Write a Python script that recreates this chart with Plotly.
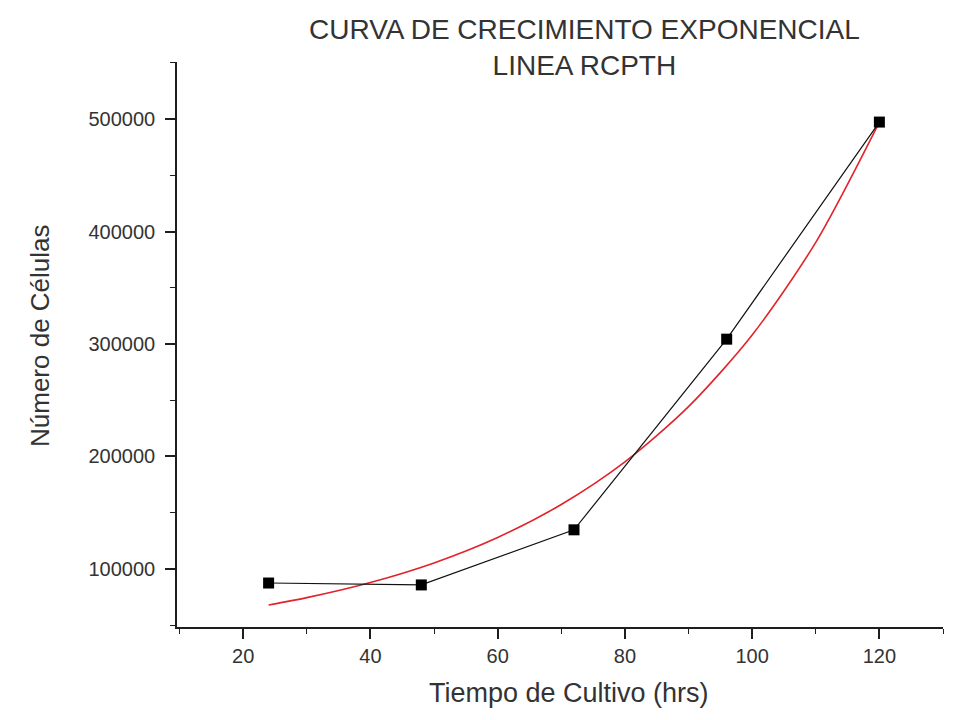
import plotly.graph_objects as go

# Measured cell counts over culture time
tiempo_hrs = [24, 48, 72, 96, 120]
num_celulas = [87500, 85800, 134800, 304300, 497300]

# Exponential growth fit, sampled along its length
ajuste_x = [24, 30, 40, 50, 60, 70, 80, 90, 100, 110, 120]
ajuste_y = [68000, 74500, 88000, 105400, 128000, 157300, 195200, 244300, 308000, 390400, 497300]

x_ticks = [20, 40, 60, 80, 100, 120]
y_ticks = [100000, 200000, 300000, 400000, 500000]

FONT = "Liberation Sans, Arial, sans-serif"
TEXT = "#333333"
AXIS = "#1e1e1e"
W, H = 979, 720

fig = go.Figure()

fig.add_trace(go.Scatter(
    x=ajuste_x, y=ajuste_y, mode="lines",
    line=dict(color="#e3232b", width=1.6, shape="spline", smoothing=0.8),
    showlegend=False, hoverinfo="skip",
))

fig.add_trace(go.Scatter(
    x=tiempo_hrs, y=num_celulas, mode="lines+markers",
    line=dict(color="#111111", width=1.2),
    marker=dict(symbol="square", size=11, color="#000000"),
    showlegend=False,
))

axis_common = dict(
    showgrid=False, zeroline=False, showline=True, linecolor=AXIS, linewidth=1.6,
    ticks="outside", ticklen=10, tickwidth=1.6, tickcolor=AXIS,
    tickfont=dict(family=FONT, size=20, color=TEXT),
)

fig.update_layout(
    width=W, height=H,
    margin=dict(l=177, r=36, t=62, b=93),
    paper_bgcolor="white", plot_bgcolor="white",
    xaxis=dict(
        **axis_common,
        range=[9.6, 130],
        tickmode="array", tickvals=x_ticks, ticktext=[str(v) for v in x_ticks],
        minor=dict(dtick=10, tick0=0, ticks="outside", ticklen=5, tickwidth=1.4, tickcolor=AXIS),
    ),
    yaxis=dict(
        **axis_common,
        range=[48400, 550700],
        ticklabelstandoff=6,
        tickmode="array", tickvals=y_ticks, ticktext=[str(v) for v in y_ticks],
        minor=dict(dtick=50000, tick0=0, ticks="outside", ticklen=5, tickwidth=1.4, tickcolor=AXIS),
    ),
    annotations=[
        dict(text="CURVA DE CRECIMIENTO EXPONENCIAL<br>LINEA RCPTH",
             xref="paper", yref="paper", x=(584 - 177) / (W - 177 - 36), y=1 + 14 / (H - 62 - 93),
             xanchor="center", yanchor="middle", showarrow=False,
             font=dict(family=FONT, size=28, color=TEXT)),
        dict(text="Tiempo de Cultivo (hrs)",
             xref="paper", yref="paper", x=(569 - 177) / (W - 177 - 36), y=-(693 - 627) / (H - 62 - 93),
             xanchor="center", yanchor="middle", showarrow=False,
             font=dict(family=FONT, size=27, color=TEXT)),
        dict(text="Número de Células", textangle=-90,
             xref="paper", yref="paper", x=-(177 - 40) / (W - 177 - 36), y=(627 - 336) / (H - 62 - 93),
             xanchor="center", yanchor="middle", showarrow=False,
             font=dict(family=FONT, size=26, color=TEXT)),
    ],
)

fig.write_html("out.html")
